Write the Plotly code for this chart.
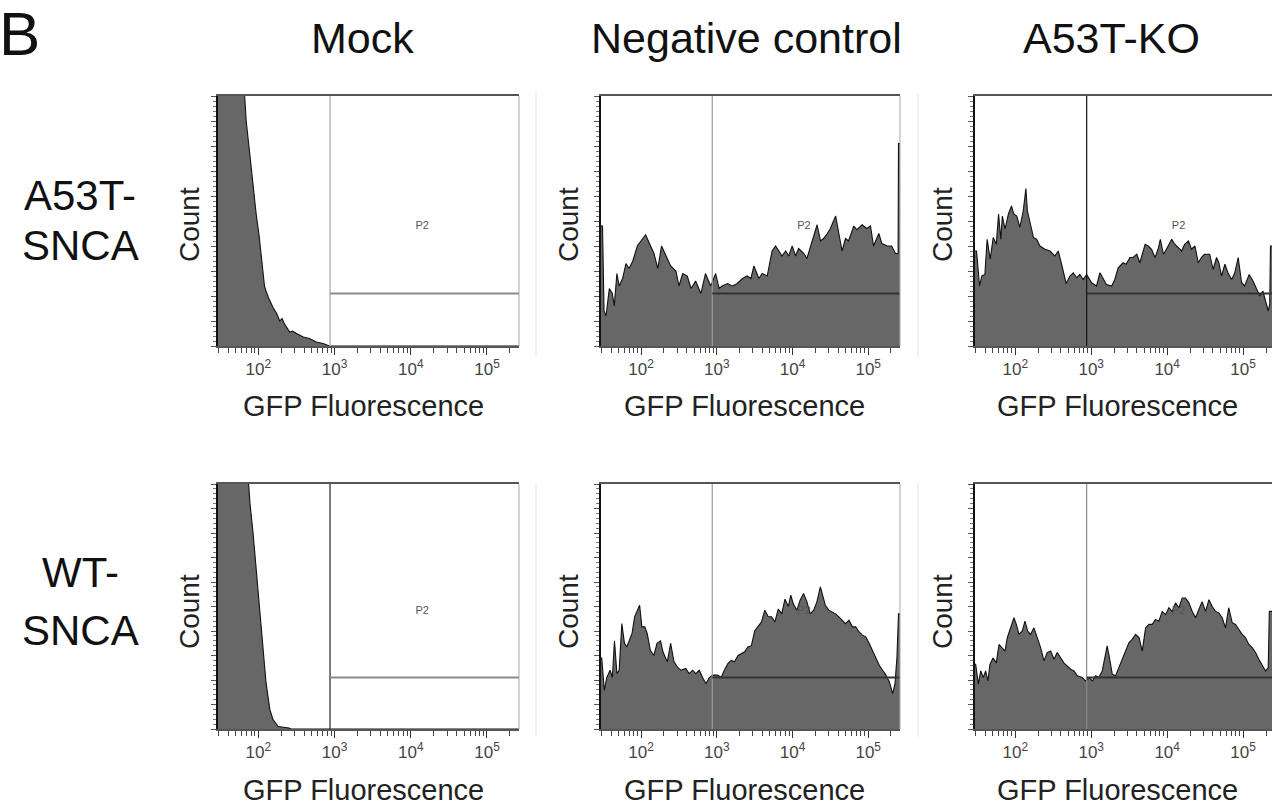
import numpy as np
import plotly.graph_objects as go

W, H = 1272, 807

# ---------------- text ----------------
panel_letter = "B"
col_titles = ["Mock", "Negative control", "A53T-KO"]
row_labels = [["A53T-", "SNCA"], ["WT-", "SNCA"]]
x_title = "GFP Fluorescence"
y_title = "Count"
gate_label = "P2"
tick_vals = [1e2, 1e3, 1e4, 1e5]
tick_text = ["10<sup>2</sup>", "10<sup>3</sup>", "10<sup>4</sup>", "10<sup>5</sup>"]
minor_tick_vals = [30, 40, 50, 60, 70, 80, 90,
                   200, 300, 400, 500, 600, 700, 800, 900,
                   2000, 3000, 4000, 5000, 6000, 7000, 8000, 9000,
                   20000, 30000, 40000, 50000, 60000, 70000, 80000, 90000,
                   200000]

# ---------------- data (log10 GFP, count as % of full scale) ----------------
mock_a53t_log = [1.47, 1.60, 1.80, 1.84, 1.89, 1.93, 1.97, 2.01, 2.04, 2.08, 2.10, 2.13,
                 2.19, 2.24, 2.28, 2.31, 2.34, 2.41, 2.45, 2.50, 2.59, 2.67, 2.76, 2.85, 2.93, 5.42]
mock_a53t_cnt = [130, 125, 110, 90, 76, 64, 53, 44, 35, 24, 22, 19.5,
                 15.5, 13, 10, 11, 9, 5.6, 6, 5, 3.6, 3, 1.6, 1, 0, 0]

mock_wt_log = [1.47, 1.70, 1.86, 1.89, 1.93, 1.97, 2.02, 2.06, 2.10, 2.15, 2.19, 2.26,
               2.34, 2.40, 2.43, 5.42]
mock_wt_cnt = [130, 125, 105, 92, 80, 65, 49, 32, 19, 8, 4, 1,
               0.7, 0.4, 0, 0]

neg_a53t_log = [1.47, 1.49, 1.51, 1.536, 1.58, 1.62, 1.645, 1.68, 1.71, 1.755, 1.80, 1.84,
                1.89, 1.95, 1.997, 2.06, 2.11, 2.17, 2.22, 2.27, 2.33, 2.39, 2.46, 2.50,
                2.55, 2.61, 2.66, 2.72, 2.79, 2.85, 2.92, 2.985, 3.03, 3.07, 3.14, 3.205,
                3.27, 3.34, 3.40, 3.45, 3.49, 3.556, 3.60, 3.666, 3.73, 3.776, 3.82, 3.86,
                3.91, 3.95, 3.996, 4.04, 4.08, 4.15, 4.19, 4.24, 4.28, 4.325, 4.37, 4.41,
                4.46, 4.50, 4.57, 4.61, 4.655, 4.70, 4.74, 4.81, 4.85, 4.92, 4.98, 5.03,
                5.07, 5.14, 5.18, 5.25, 5.31, 5.36, 5.395, 5.40, 5.42]
neg_a53t_cnt = [48, 48, 14, 12, 23, 21, 16, 29, 24, 27, 33, 31,
                34, 40, 42, 44.5, 41, 37, 31, 40, 36, 32, 30, 24,
                29, 28, 23, 26, 21, 29, 24, 29, 23, 24, 25, 24,
                25, 27, 28, 27, 32, 27, 29, 28, 38, 40, 38, 36,
                38, 36, 40, 36, 39, 37, 35, 40, 43, 48.5, 42, 43,
                45, 47, 52, 46, 38, 43, 42, 48, 46.5, 48.5, 47, 48,
                40, 45, 41, 40, 40, 37, 37, 81, 81]

ko_a53t_log = [1.47, 1.49, 1.53, 1.56, 1.60, 1.63, 1.67, 1.71, 1.75, 1.78, 1.81, 1.83,
               1.865, 1.91, 1.95, 1.98, 2.02, 2.06, 2.105, 2.14, 2.16, 2.19, 2.24, 2.28,
               2.325, 2.39, 2.457, 2.52, 2.566, 2.61, 2.67, 2.72, 2.764, 2.81, 2.85, 2.895,
               2.94, 3.005, 3.07, 3.115, 3.16, 3.20, 3.27, 3.31, 3.355, 3.42, 3.46, 3.51,
               3.55, 3.60, 3.64, 3.71, 3.75, 3.795, 3.84, 3.88, 3.91, 3.95, 3.99, 4.06,
               4.10, 4.145, 4.19, 4.23, 4.28, 4.32, 4.365, 4.41, 4.45, 4.49, 4.56, 4.605,
               4.65, 4.68, 4.715, 4.76, 4.80, 4.85, 4.89, 4.935, 4.98, 5.02, 5.08, 5.13,
               5.18, 5.22, 5.26, 5.30, 5.33, 5.35, 5.36, 5.38]
ko_a53t_cnt = [38, 38, 24, 28, 28.6, 42.7, 34.7, 43.4, 40.7, 52.8, 42.7, 52,
               46.8, 52.8, 56, 52.8, 52, 47.5, 54, 63, 54, 49.5, 43.4, 42.7,
               40, 38.7, 38, 36, 38, 32.7, 25, 28, 29.3, 27.3, 28.6, 26.6,
               28.6, 25.3, 24, 29.3, 26.6, 24.6, 24, 26.6, 31.3, 33.3, 32.7, 35.4,
               35.4, 36.7, 33.3, 40.7, 40, 38.7, 35.4, 38.7, 42.7, 36.7, 38.7, 42.7,
               40.7, 39.4, 38, 40.7, 42, 38.7, 40, 33.3, 35.4, 36.7, 36.7, 30.6,
               35.4, 33.3, 28, 32.7, 29.3, 26.6, 29.3, 35.4, 25.3, 24, 28.6, 26,
               22.6, 20, 22, 18, 14, 17, 40, 40]

neg_wt_log = [1.47, 1.48, 1.514, 1.546, 1.59, 1.62, 1.648, 1.68, 1.71, 1.745, 1.78, 1.81,
              1.843, 1.88, 1.914, 1.946, 1.98, 2.01, 2.048, 2.08, 2.123, 2.168, 2.21, 2.257,
              2.288, 2.346, 2.39, 2.434, 2.48, 2.523, 2.59, 2.634, 2.68, 2.723, 2.768, 2.812,
              2.857, 2.90, 2.946, 3.012, 3.057, 3.10, 3.146, 3.19, 3.234, 3.28, 3.323, 3.368,
              3.41, 3.457, 3.50, 3.546, 3.59, 3.634, 3.68, 3.723, 3.768, 3.812, 3.857, 3.90,
              3.946, 3.977, 4.012, 4.057, 4.10, 4.146, 4.19, 4.234, 4.28, 4.323, 4.368, 4.403,
              4.434, 4.48, 4.523, 4.568, 4.612, 4.657, 4.70, 4.746, 4.79, 4.834, 4.88, 4.923,
              4.968, 5.012, 5.057, 5.10, 5.146, 5.19, 5.234, 5.28, 5.323, 5.354, 5.38, 5.40, 5.42]
neg_wt_cnt = [29, 29, 15.8, 21, 24, 21, 36, 22.6, 24, 43, 35, 33.5,
              36, 39, 45.8, 48.5, 50.5, 41.7, 41.7, 39, 32, 30, 35, 36,
              31.5, 27.4, 35, 27.4, 25.3, 24, 24.7, 22.6, 24, 22.6, 24, 21,
              18.5, 21, 22, 22, 21, 24, 26.7, 28, 27.4, 30, 30.8, 31.5,
              33.5, 34, 40, 41.7, 43.7, 48.5, 45.8, 45.8, 43.7, 49, 47, 53,
              50, 54.6, 51, 48.5, 52.6, 55.3, 52, 47, 48.5, 52, 58, 54,
              50.5, 48.5, 47.8, 47, 45.8, 44.4, 43, 44.4, 41.7, 41.7, 39.6, 38.3,
              37.6, 35, 32, 29.4, 26, 24, 22, 19.2, 14.4, 18.5, 29.4, 47, 47]

ko_wt_log = [1.47, 1.479, 1.514, 1.545, 1.58, 1.61, 1.64, 1.667, 1.707, 1.75, 1.786, 1.83,
             1.865, 1.895, 1.94, 1.983, 2.014, 2.05, 2.093, 2.128, 2.163, 2.20, 2.246, 2.29,
             2.334, 2.378, 2.42, 2.466, 2.51, 2.553, 2.597, 2.64, 2.685, 2.73, 2.773, 2.817,
             2.88, 2.926, 2.97, 3.014, 3.058, 3.10, 3.145, 3.18, 3.21, 3.24, 3.277, 3.32,
             3.365, 3.41, 3.452, 3.496, 3.54, 3.584, 3.63, 3.672, 3.716, 3.76, 3.803, 3.847,
             3.89, 3.935, 3.98, 4.023, 4.067, 4.11, 4.155, 4.198, 4.242, 4.286, 4.33, 4.374,
             4.417, 4.46, 4.505, 4.55, 4.593, 4.637, 4.68, 4.724, 4.768, 4.81, 4.856, 4.90,
             4.944, 4.988, 5.03, 5.075, 5.12, 5.163, 5.207, 5.25, 5.295, 5.33, 5.345, 5.38]
ko_wt_cnt = [26.4, 26.4, 18.3, 23.7, 21, 23.7, 19.6, 26.4, 29, 27, 34.5, 33.2,
             31.8, 37.3, 41.3, 45.4, 42.7, 38.6, 40, 44, 40, 38.6, 41.3, 37.3,
             33.2, 27.8, 31.2, 31.8, 28.5, 31.2, 29, 27, 25.7, 24.4, 23.7, 21.7,
             21, 19.6, 21, 19.6, 21.7, 21, 23.7, 29, 33.9, 29, 22.4, 21.7,
             25, 29, 31.8, 35.2, 36.6, 38.6, 37.3, 31.8, 41.3, 42.7, 42.7, 44.7,
             44, 48, 46.7, 49.5, 48, 51.5, 49.5, 53.5, 53.5, 51.5, 48, 45.4,
             48.8, 52, 48, 52.8, 50, 48, 47.4, 45.4, 41.3, 49.5, 43.4, 42.7,
             40.6, 38.6, 37.3, 34.5, 33.2, 31.2, 28.5, 26.4, 23.7, 25, 48, 48]

panels = [
    [(mock_a53t_log, mock_a53t_cnt), (neg_a53t_log, neg_a53t_cnt), (ko_a53t_log, ko_a53t_cnt)],
    [(mock_wt_log, mock_wt_cnt), (neg_wt_log, neg_wt_cnt), (ko_wt_log, ko_wt_cnt)],
]

GATE_LOG = 2.94
GATE_LEVEL = 21
P2_POS = (4.15, 48)

# ---------------- layout geometry (pixels) ----------------
col_px = [(218, 519), (601, 900), (975, 1272)]
row_px = [(96, 346), (484, 729)]
x_ranges = [[1.47, 5.42], [1.47, 5.42], [1.47, 5.38]]
vgate_colors = [["#a8a8a8", "#9a9a9a", "#111111"], ["#222222", "#9a9a9a", "#8a8a8a"]]
hgate_colors = ["#8a8a8a", "#333333", "#333333"]

FONT = "Liberation Sans, Arial, sans-serif"
FILL = "#676767"

fig = go.Figure()
layout = dict(width=W, height=H, margin=dict(l=0, r=0, t=0, b=0),
              paper_bgcolor="white", plot_bgcolor="white", showlegend=False,
              font=dict(family=FONT, color="#222"))
shapes = []
annotations = []


def px_x(p):
    return p / W


def px_y(p):
    return 1 - p / H


idx = 0
for r in range(2):
    for c in range(3):
        idx += 1
        xa = "x" if idx == 1 else f"x{idx}"
        ya = "y" if idx == 1 else f"y{idx}"
        xkey = "xaxis" if idx == 1 else f"xaxis{idx}"
        ykey = "yaxis" if idx == 1 else f"yaxis{idx}"
        lg, cnt = panels[r][c]
        xs = [10 ** v for v in lg]
        fig.add_trace(go.Scatter(x=xs, y=cnt, xaxis=xa, yaxis=ya, mode="lines",
                                 line=dict(color="#111", width=1.1), fill="tozeroy",
                                 fillcolor=FILL, hoverinfo="skip"))
        gx = 10 ** GATE_LOG
        fig.add_trace(go.Scatter(x=[gx, gx], y=[0, 100], xaxis=xa, yaxis=ya, mode="lines",
                                 line=dict(color=vgate_colors[r][c], width=1.2), hoverinfo="skip"))
        fig.add_trace(go.Scatter(x=[gx, 10 ** 5.42], y=[GATE_LEVEL, GATE_LEVEL], xaxis=xa, yaxis=ya,
                                 mode="lines", line=dict(color=hgate_colors[c], width=2), hoverinfo="skip"))
        fig.add_trace(go.Scatter(x=[10 ** P2_POS[0]], y=[P2_POS[1]], xaxis=xa, yaxis=ya, mode="text",
                                 text=[gate_label], textfont=dict(size=11, color="#555"),
                                 hoverinfo="skip"))
        x0, x1 = col_px[c]
        y0, y1 = row_px[r]
        layout[xkey] = dict(type="log", range=x_ranges[c], domain=[px_x(x0), px_x(x1)], anchor=ya,
                            showgrid=False, zeroline=False, showline=True, linecolor="#555",
                            linewidth=2, mirror=True, ticks="outside", ticklen=7, tickcolor="#333",
                            tickwidth=1.2, tickvals=tick_vals, ticktext=tick_text,
                            tickfont=dict(size=17, color="#444"),
                            minor=dict(tickvals=minor_tick_vals, ticks="outside", ticklen=5,
                                       tickcolor="#444", tickwidth=1))
        layout[ykey] = dict(range=[0, 100], domain=[px_y(y1), px_y(y0)], anchor=xa,
                            showgrid=False, zeroline=False, showline=True, linecolor="#111",
                            linewidth=2, ticks="outside", ticklen=5, tickcolor="#555", dtick=10,
                            showticklabels=False,
                            minor=dict(ticks="outside", ticklen=3, dtick=2, tickcolor="#777"))
        if c < 2:
            shapes.append(dict(type="line", xref=f"{xa} domain", yref=f"{ya} domain",
                               x0=1, x1=1, y0=0, y1=1, line=dict(color="#aaa", width=1)))
        # axis titles
        annotations.append(dict(text=y_title, xref="paper", yref="paper",
                                x=px_x([189, 568, 942][c]), y=px_y([225, 612][r]),
                                textangle=-90, showarrow=False, xanchor="center", yanchor="middle",
                                font=dict(size=28, color="#222")))
        annotations.append(dict(text=x_title, xref="paper", yref="paper",
                                x=px_x([363, 744, 1117][c]), y=px_y([406, 790][r]),
                                showarrow=False, xanchor="center", yanchor="middle",
                                font=dict(size=29, color="#222")))

# separators between columns
for (y0, y1) in [(93, 357), (483, 737)]:
    for sx in [536, 918]:
        shapes.append(dict(type="line", xref="paper", yref="paper", x0=px_x(sx), x1=px_x(sx),
                           y0=px_y(y1), y1=px_y(y0), line=dict(color="#e2e2e2", width=1)))

# column titles
for c, t in enumerate(col_titles):
    annotations.append(dict(text=t, xref="paper", yref="paper", x=px_x([362, 746, 1111][c]),
                            y=px_y(38), showarrow=False, xanchor="center", yanchor="middle",
                            font=dict(size=43, color="#111")))
# row labels
row_line_y = [[195, 246], [572, 630]]
for r in range(2):
    for k, t in enumerate(row_labels[r]):
        annotations.append(dict(text=t, xref="paper", yref="paper", x=px_x(80),
                                y=px_y(row_line_y[r][k]), showarrow=False, xanchor="center",
                                yanchor="middle", font=dict(size=42, color="#111")))
# panel letter
annotations.append(dict(text=panel_letter, xref="paper", yref="paper", x=px_x(-3), y=px_y(34),
                        showarrow=False, xanchor="left", yanchor="middle",
                        font=dict(size=62, color="#111")))

layout["shapes"] = shapes
layout["annotations"] = annotations
fig.update_layout(**layout)
fig.write_html("out.html", config={"displayModeBar": False},
               post_script="document.body.style.margin='0';document.body.style.overflow='hidden';")
